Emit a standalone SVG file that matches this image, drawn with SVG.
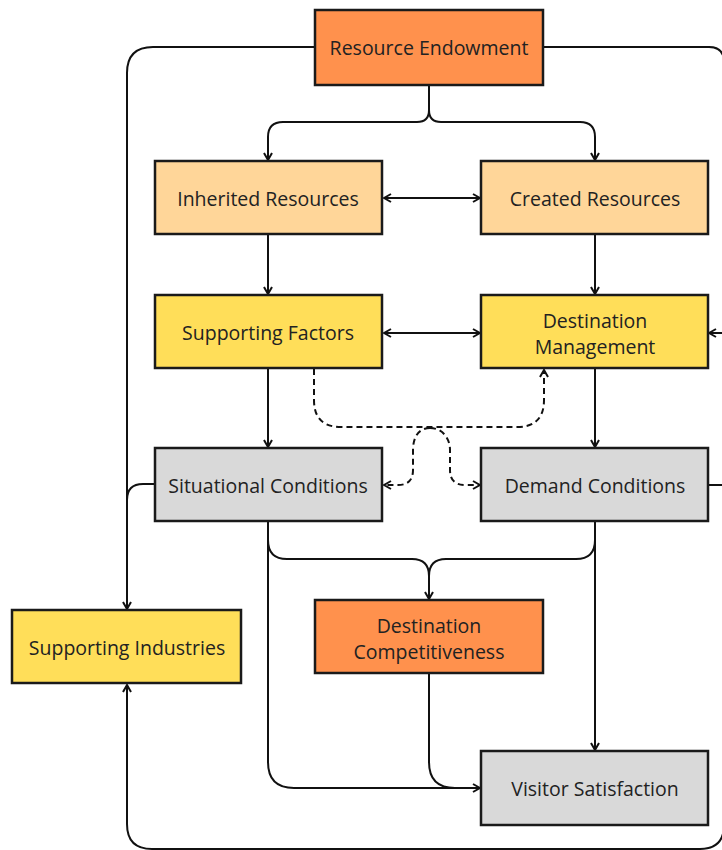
<svg xmlns="http://www.w3.org/2000/svg" width="722" height="850" viewBox="0 0 722 850">
<style>
.box{stroke:#1a1a1a;stroke-width:2.5}
.orange{fill:#FF914D}
.peach{fill:#FFD699}
.yellow{fill:#FFDE59}
.gray{fill:#D9D9D9}
.lbl{font-family:"Open Sans","Liberation Sans",sans-serif;font-size:19.5px;fill:#222;text-anchor:middle;dominant-baseline:central}
.ln{fill:none;stroke:#111;stroke-width:2}
.dash{fill:none;stroke:#111;stroke-width:2;stroke-dasharray:6 4}
</style>
<defs>
<marker id="ah" viewBox="0 0 10 10" refX="9" refY="5" markerWidth="10" markerHeight="10" markerUnits="userSpaceOnUse" orient="auto-start-reverse">
<path d="M2,1 L9,5 L2,9" fill="none" stroke="#111" stroke-width="2"/>
</marker>
</defs>
<g id="connectors">
<path class="ln" d="M429,86 V110 Q429,122 417,122 H283 Q268,122 268,137 V160" marker-end="url(#ah)"/>
<path class="ln" d="M429,110 Q429,122 441,122 H580 Q595,122 595,137 V160" marker-end="url(#ah)"/>
<path class="ln" d="M268,235 V294" marker-end="url(#ah)"/>
<path class="ln" d="M595,235 V294" marker-end="url(#ah)"/>
<path class="ln" d="M268,369 V447" marker-end="url(#ah)"/>
<path class="ln" d="M595,369 V447" marker-end="url(#ah)"/>
<path class="ln" d="M384,198 H480" marker-start="url(#ah)" marker-end="url(#ah)"/>
<path class="ln" d="M384,333 H480" marker-start="url(#ah)" marker-end="url(#ah)"/>
<path class="dash" d="M314,369 V400 Q314,427 341,427 H517 Q544,427 544,400 V370" marker-end="url(#ah)"/>
<path class="dash" d="M430,428 C418,428 413,438 413,450 V470 Q413,485 398,485 H384" marker-end="url(#ah)"/>
<path class="dash" d="M430,428 C442,428 450,438 450,450 V470 Q450,485 465,485 H480" marker-end="url(#ah)"/>
<path class="ln" d="M268,522 V762 Q268,788 294,788 H480" marker-end="url(#ah)"/>
<path class="ln" d="M268,540 Q268,559 287,559 H412 Q429,559 429,576 V599" marker-end="url(#ah)"/>
<path class="ln" d="M595,540 Q595,559 576,559 H446 Q429,559 429,576"/>
<path class="ln" d="M595,522 V750" marker-end="url(#ah)"/>
<path class="ln" d="M429,674 V762 Q429,788 455,788 H470"/>
<path class="ln" d="M314,47 H153 Q127,47 127,73 V609" marker-end="url(#ah)"/>
<path class="ln" d="M154,484 H143 Q127,484 127,500"/>
<path class="ln" d="M127,685 V824 Q127,849 152,849 H700 Q724,849 724,825 V62 Q724,47 709,47 H544" marker-start="url(#ah)"/>
<path class="ln" d="M724,333 H709" marker-end="url(#ah)"/>
<path class="ln" d="M708,485 H724"/>
</g>
<g id="resource-endowment"><rect class="box orange" x="315" y="10" width="228" height="75"/><text class="lbl" x="429" y="47">Resource Endowment</text></g>
<g id="inherited-resources"><rect class="box peach" x="155" y="161" width="227" height="73"/><text class="lbl" x="268" y="198">Inherited Resources</text></g>
<g id="created-resources"><rect class="box peach" x="481" y="161" width="227" height="73"/><text class="lbl" x="595" y="198">Created Resources</text></g>
<g id="supporting-factors"><rect class="box yellow" x="155" y="295" width="227" height="73"/><text class="lbl" x="268" y="332">Supporting Factors</text></g>
<g id="destination-management"><rect class="box yellow" x="481" y="295" width="227" height="73"/><text class="lbl" x="595" y="320">Destination</text><text class="lbl" x="595" y="346">Management</text></g>
<g id="situational-conditions"><rect class="box gray" x="155" y="448" width="227" height="73"/><text class="lbl" x="268" y="485">Situational Conditions</text></g>
<g id="demand-conditions"><rect class="box gray" x="481" y="448" width="227" height="73"/><text class="lbl" x="595" y="485">Demand Conditions</text></g>
<g id="supporting-industries"><rect class="box yellow" x="12" y="610" width="229" height="73"/><text class="lbl" x="127" y="647">Supporting Industries</text></g>
<g id="destination-competitiveness"><rect class="box orange" x="315" y="600" width="228" height="73"/><text class="lbl" x="429" y="625">Destination</text><text class="lbl" x="429" y="651">Competitiveness</text></g>
<g id="visitor-satisfaction"><rect class="box gray" x="481" y="751" width="227" height="74"/><text class="lbl" x="595" y="788">Visitor Satisfaction</text></g>
</svg>
